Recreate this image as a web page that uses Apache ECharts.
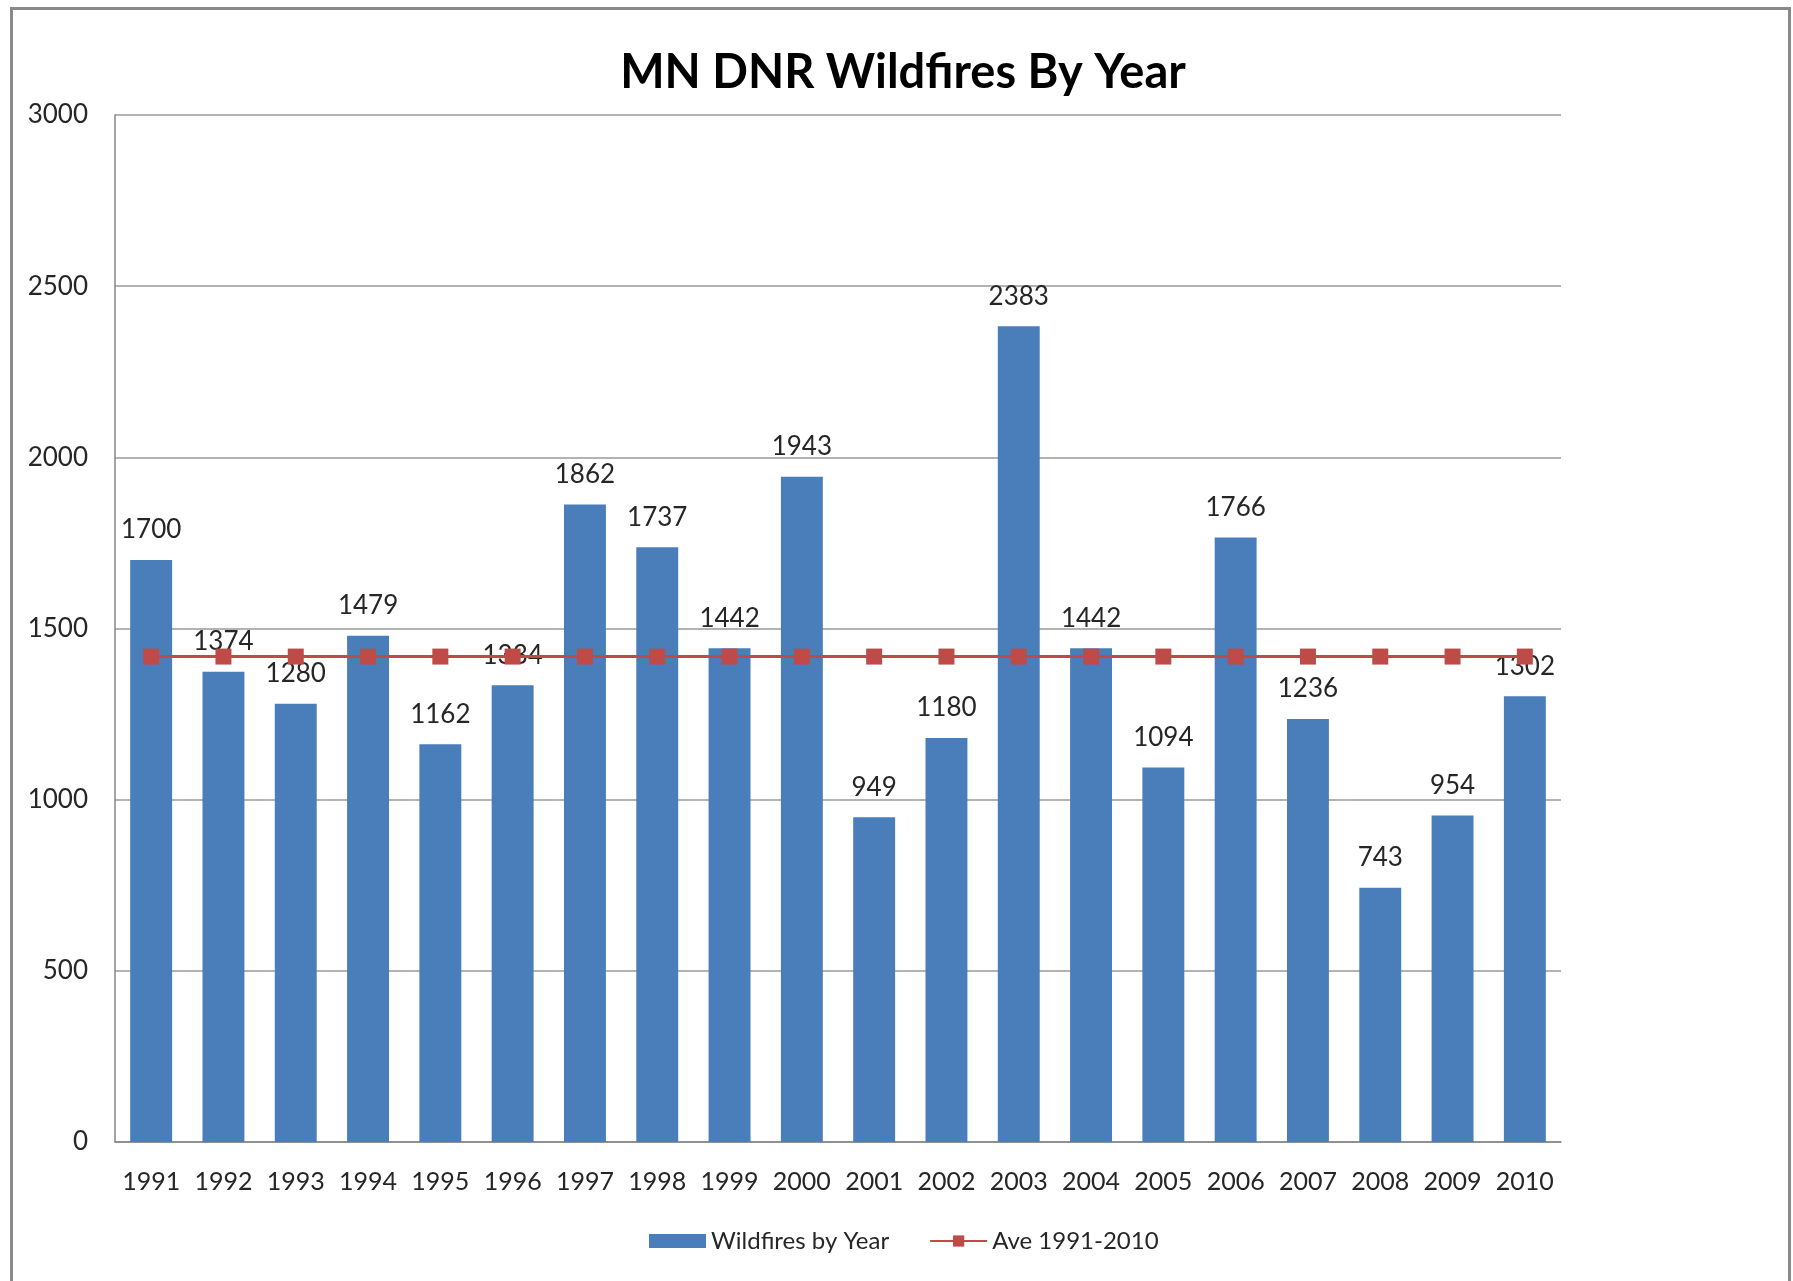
<!DOCTYPE html>
<html>
<head>
<meta charset="utf-8">
<script src="https://cdn.jsdelivr.net/npm/echarts@6/dist/echarts.min.js"></script>
<style>html,body{margin:0;padding:0;background:#fff;}#c{width:1793px;height:1281px;}</style>
</head>
<body>
<div id="c"></div>
<script>
const years = ['1991','1992','1993','1994','1995','1996','1997','1998','1999','2000','2001','2002','2003','2004','2005','2006','2007','2008','2009','2010'];
const wildfires = [1700,1374,1280,1479,1162,1334,1862,1737,1442,1943,949,1180,2383,1442,1094,1766,1236,743,954,1302];
const average = [1418,1418,1418,1418,1418,1418,1418,1418,1418,1418,1418,1418,1418,1418,1418,1418,1418,1418,1418,1418];
const yTicks = [0,500,1000,1500,2000,2500,3000];

const chart = echarts.init(document.getElementById('c'));
const font = 'Lato, "Open Sans", sans-serif';
chart.setOption({
  animation: false,
  backgroundColor: '#fff',
  title: {
    text: 'MN DNR Wildfires By Year',
    left: 898, top: 44, textAlign: 'center',
    textStyle: { fontFamily: font, fontSize: 47, fontWeight: 'bold', color: '#000' }
  },
  graphic: [{
    type: 'rect', left: 9, top: 6,
    shape: { width: 1778, height: 1300 },
    style: { fill: 'none', stroke: '#8a8a8a', lineWidth: 3 }, z: -1
  }],
  legend: {
    left: 644, top: 1224,
    itemWidth: 57, itemHeight: 14, itemGap: 40,
    textStyle: { fontFamily: font, fontSize: 24, color: '#262626' },
    data: [
      { name: 'Wildfires by Year', icon: 'rect' },
      { name: 'Ave 1991-2010' }
    ]
  },
  grid: { left: 115, right: 232, top: 115, bottom: 139 },
  xAxis: {
    type: 'category', data: years,
    axisLine: { lineStyle: { color: '#868686', width: 1.5 } },
    axisTick: { show: false },
    axisLabel: { interval: 0, fontFamily: font, fontSize: 25, color: '#262626', margin: 27 }
  },
  yAxis: {
    type: 'value', min: 0, max: 3000, interval: 500,
    axisLine: { show: true, lineStyle: { color: '#868686', width: 1.5 } },
    axisTick: { show: false },
    splitLine: { lineStyle: { color: '#9a9a9a', width: 1.5 } },
    axisLabel: { fontFamily: font, fontSize: 26, color: '#262626', margin: 27,
      formatter: v => yTicks.includes(v) ? String(v) : '' }
  },
  series: [
    {
      name: 'Wildfires by Year', type: 'bar', data: wildfires,
      barWidth: '58%',
      itemStyle: { color: '#4A7EBB' },
      label: { show: true, position: 'top', distance: 17,
        fontFamily: font, fontSize: 26, color: '#262626' }
    },
    {
      name: 'Ave 1991-2010', type: 'line', data: average,
      symbol: 'rect', symbolSize: 16,
      lineStyle: { color: '#BE4B48', width: 3 },
      itemStyle: { color: '#BE4B48' }, z: 3
    }
  ]
});
</script>
</body>
</html>
